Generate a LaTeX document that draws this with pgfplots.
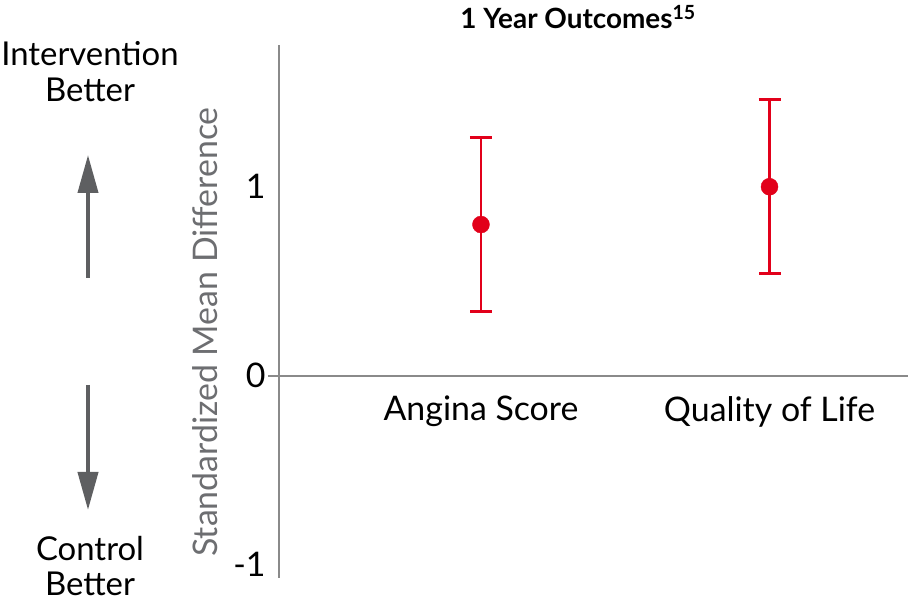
\documentclass[border=0pt]{standalone}
\usepackage{fontspec}
\setmainfont{Lato}
\usepackage{pgfplots}
\pgfplotsset{compat=1.18}
\usetikzlibrary{arrows.meta}

\definecolor{axgray}{HTML}{8A8A8A}
\definecolor{arrgray}{HTML}{5E5F61}
\definecolor{labgray}{HTML}{6D6E71}
\definecolor{pointred}{HTML}{E2001A}

\begin{document}
\begin{tikzpicture}[x=1bp,y=1bp]
\useasboundingbox (0,0) rectangle (908,602);
\begin{axis}[
    at={(279bp,24bp)}, anchor=south west,
    scale only axis, width=629bp, height=533bp,
    xmin=-0.7, xmax=1.48, ymin=-1.07, ymax=1.75,
    axis x line=middle, axis y line=left,
    axis line style={-, axgray, line width=1.6bp},
    hide obscured x ticks=false, hide obscured y ticks=false,
    xtick={0,1}, xticklabels={Angina Score, Quality of Life},
    ytick={-1,0,1},
    major tick length=0,
    tick label style={font=\fontsize{34}{36}\selectfont, black},
    yticklabel style={xshift=-10bp},
    xticklabel style={yshift=-17bp},
    /pgf/number format/assume math mode=true,
    clip=false,
  ]
  \addplot[only marks, mark=*, mark size=8.5bp, pointred,
    mark options={fill=pointred, draw=pointred},
    error bars/.cd, y dir=both, y explicit,
    error bar style={line width=2.8bp, pointred},
    error mark options={rotate=90, mark size=11bp, line width=2.8bp, pointred}]
    table[x=x, y=y, y error=e] {
      x y    e
      0 0.80 0.46
      1 1.00 0.46
    };
  \draw[axgray, line width=1.6bp] ([xshift=-11bp]axis cs:-0.7,0) -- (axis cs:-0.7,0);
\end{axis}

% title and side labels
\node[font=\fontsize{28}{30}\selectfont\bfseries] at (578,585) {1 Year Outcomes\textsuperscript{15}};
\node[rotate=90, labgray, font=\fontsize{34}{36}\selectfont] at (205,270) {Standardized Mean Difference};
\node[align=center, font=\fontsize{33}{36}\selectfont] at (90,530) {Intervention\\Better};
\node[align=center, inner sep=0pt, font=\fontsize{33}{36}\selectfont] at (90,36) {Control\\Better};
\draw[arrgray, line width=4bp, -{Triangle[width=20bp,length=38bp]}] (88,324) -- (88,447);
\draw[arrgray, line width=4bp, -{Triangle[width=20bp,length=38bp]}] (88,217) -- (88,92);
\end{tikzpicture}
\end{document}
